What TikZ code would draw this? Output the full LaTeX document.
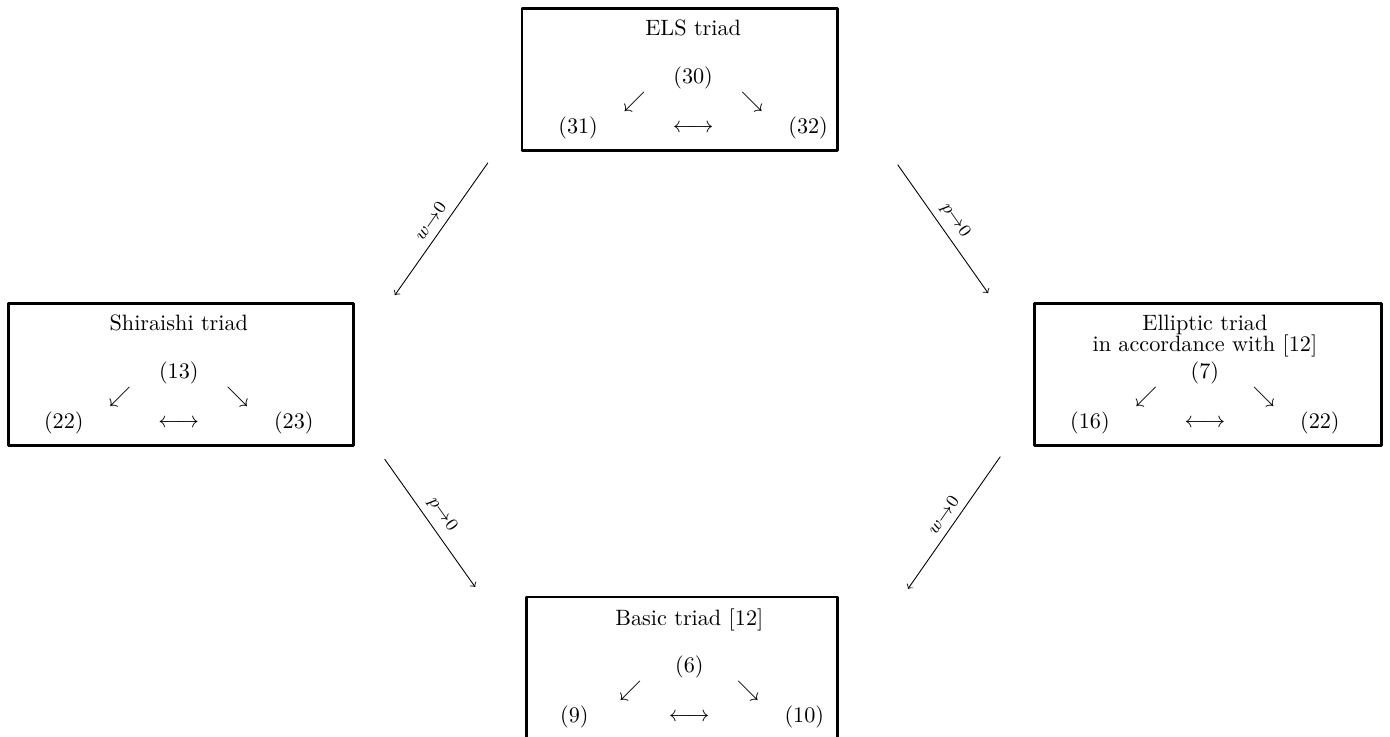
\documentclass[tikz,border=0pt]{standalone}
\usepackage{amsmath}
\begin{document}
\begin{tikzpicture}[line join=round, line cap=round, >=to,
		triadbox/.style={draw, line width=1.2pt, minimum height=2.25cm, inner sep=0pt, anchor=north},
		ttl/.style={anchor=north, inner sep=0pt, align=center},
		lim/.style={sloped, above, font=\footnotesize}]
	\useasboundingbox (0,0) rectangle (22,11.65);
	% the four triads
	\foreach \nm/\fx/\fy/\fw/\cx/\tit/\ta/\tb/\tc in {
		els/10.755/11.54/4.99/10.97/{ELS triad}/30/31/32,
		shi/2.86/6.87/5.46/2.83/{Shiraishi triad}/13/22/23,
		ell/19.115/6.87/5.49/19.07/{Elliptic triad\\[-2.7pt]in accordance with [12]}/7/16/22,
		bas/10.79/2.22/4.92/10.91/{Basic triad [12]}/6/9/10}{
		\node[triadbox, minimum width=\fw cm] (\nm) at (\fx,\fy) {};
		\node[ttl] (\nm-t) at (\cx,\fy-0.2) {\tit};
		\node (\nm-0) at (\cx,\fy-1.12) {(\ta)};
		\node (\nm-sw) at (\cx-0.93,\fy-1.5) {$\swarrow$};
		\node (\nm-se) at (\cx+0.93,\fy-1.5) {$\searrow$};
		\node (\nm-1) at (\cx-1.82,\fy-1.92) {(\tb)};
		\node (\nm-lr) at (\cx,\fy-1.92) {$\longleftrightarrow$};
		\node (\nm-2) at (\cx+1.82,\fy-1.92) {(\tc)};
	}
	% limits
	\coordinate (els-l) at (7.72,9.07);
	\coordinate (shi-u) at (6.25,6.98);
	\coordinate (els-r) at (14.21,9.04);
	\coordinate (ell-u) at (15.64,7.01);
	\coordinate (shi-d) at (6.09,4.38);
	\coordinate (bas-l) at (7.52,2.36);
	\coordinate (ell-d) at (15.83,4.42);
	\coordinate (bas-r) at (14.37,2.33);
	\draw[->] (els-l) -- node[lim] {$w{\to}0$} (shi-u);
	\draw[->] (els-r) -- node[lim] {$p{\to}0$} (ell-u);
	\draw[->] (shi-d) -- node[lim] {$p{\to}0$} (bas-l);
	\draw[->] (ell-d) -- node[lim] {$w{\to}0$} (bas-r);
\end{tikzpicture}
\end{document}
